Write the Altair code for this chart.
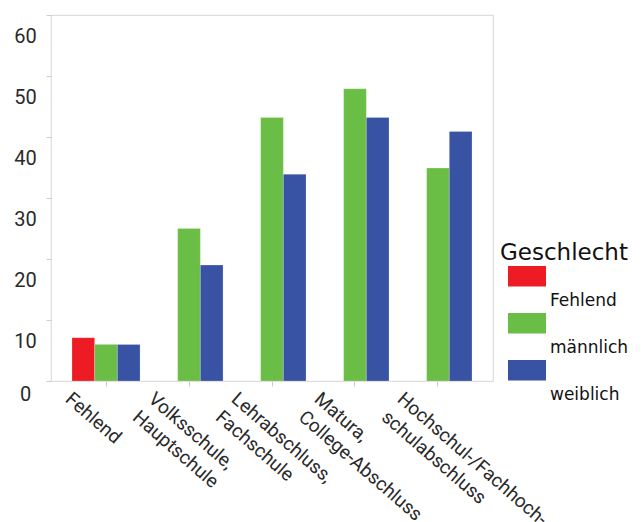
import altair as alt
import pandas as pd

# Education levels (x categories); "\n" marks the line break in the axis label
levels = [
    "Fehlend",
    "Volksschule,\nHauptschule",
    "Lehrabschluss,\nFachschule",
    "Matura,\nCollege-Abschluss",
    "Hochschul-/Fachhoch-\nschulabschluss",
]

# Gender groups and their colours
genders = ["Fehlend", "männlich", "weiblich"]
gender_colors = ["#ED1C24", "#6ABD45", "#3953A4"]

# Percentages per education level (None = no bar)
fehlend_values = [7.1, None, None, None, None]
maennlich_values = [6.0, 25.0, 43.2, 47.9, 34.9]
weiblich_values = [6.0, 19.0, 33.9, 43.2, 40.9]

y_ticks = [0, 10, 20, 30, 40, 50, 60]

rows = []
for gender, series in zip(genders, [fehlend_values, maennlich_values, weiblich_values]):
    for level, value in zip(levels, series):
        if value is not None:
            rows.append({"Abschluss": level, "Geschlecht": gender, "Prozent": value})
df = pd.DataFrame(rows)

chart = (
    alt.Chart(df)
    .mark_bar(stroke="#ffffff", strokeOpacity=0.35, strokeWidth=0.6)
    .encode(
        x=alt.X(
            "Abschluss:N",
            sort=levels,
            title=None,
            scale=alt.Scale(paddingInner=0.18, paddingOuter=0.253),
            axis=alt.Axis(
                labelAngle=41,
                labelAlign="left",
                labelBaseline="top",
                labelOffset=-32,
                labelPadding=3,
                labelExpr="split(datum.label, '\\n')",
                labelLineHeight=24,
                labelFont="Roboto",
                labelFontSize=19,
                labelColor="#2a2a2a",
                labelLimit=400,
                labelOverlap=False,
                tickSize=5,
                tickColor="#cccccc",
                domain=False,
                grid=False,
            ),
        ),
        xOffset=alt.XOffset(
            "Geschlecht:N",
            sort=genders,
            scale=alt.Scale(domain=genders, paddingInner=0, paddingOuter=0),
        ),
        y=alt.Y(
            "Prozent:Q",
            title=None,
            scale=alt.Scale(domain=[0, 60], nice=False),
            axis=alt.Axis(
                values=y_ticks,
                labelAlign="center",
                labelPadding=21,
                labelOffset={"condition": {"test": "datum.value == 0", "value": 13}, "value": 21},
                labelFont="Roboto",
                labelFontSize=20,
                labelColor="#2a2a2a",
                tickSize=5,
                tickColor="#cccccc",
                domain=False,
                grid=False,
            ),
        ),
        color=alt.Color(
            "Geschlecht:N",
            sort=genders,
            scale=alt.Scale(domain=genders, range=gender_colors),
            legend=alt.Legend(
                title="Geschlecht",
                orient="none",
                legendX=449,
                legendY=227,
                padding=0,
                titleFont="DejaVu Sans",
                titleFontSize=23,
                titleFontWeight="normal",
                titleColor="#111111",
                titlePadding=26,
                titleLimit=300,
                labelFont="DejaVu Sans",
                labelFontSize=17,
                labelColor="#111111",
                labelLimit=200,
                symbolType="M-1,-3.5H2.8V-1.45H-1Z",
                symbolSize=400,
                symbolStrokeWidth=0,
                symbolOpacity=1,
                symbolOffset=8,
                labelOffset=22,
                rowPadding=4,
            ),
        ),
    )
    .properties(
        width=442,
        height=366,
        autosize=alt.AutoSizeParams(type="none"),
        padding={"left": 51, "top": 15, "right": 149, "bottom": 141},
        background="white",
    )
    .configure_view(stroke="#dddddd", strokeWidth=1.2)
)

chart.save("out.html", embed_options={"renderer": "svg", "actions": False})
